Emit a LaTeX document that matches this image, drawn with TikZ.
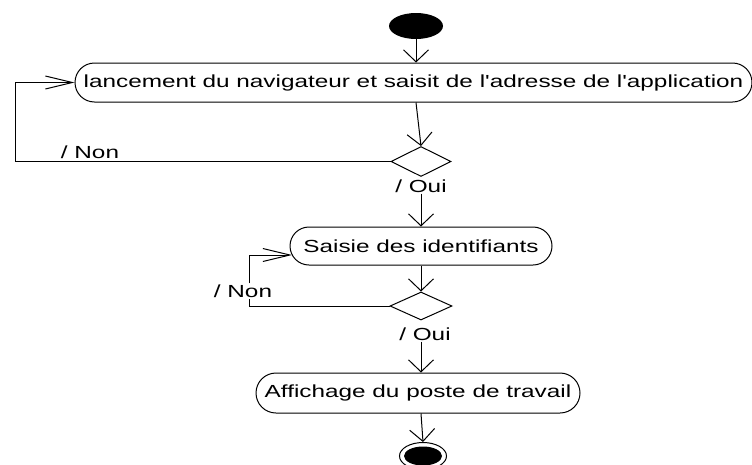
\documentclass[tikz,border=0pt]{standalone}
\usepackage{fontspec}
\newfontfamily\diafont{Liberation Sans}[FakeStretch=1.39]
\usetikzlibrary{arrows.meta,shapes.geometric,shapes.misc}
\tikzset{
  ln/.style={line width=1pt, line join=miter},
  act/.style={ln, draw, rounded rectangle, inner sep=0pt, font=\diafont\fontsize{17.5}{20}\selectfont},
  dec/.style={ln, draw, diamond, inner sep=0pt},
  lbl/.style={inner sep=1pt, font=\diafont\fontsize{17.5}{20}\selectfont},
  va/.style={ln, -{Straight Barb[length=12pt,width=25pt,line width=1pt]}},
  ha/.style={ln, -{Straight Barb[length=27pt,width=13pt,line width=1pt]}},
}
\begin{document}
\begin{tikzpicture}[x=1pt,y=-1pt]
\useasboundingbox (0,0) rectangle (752,464);
% start
\node[ellipse, fill=black, minimum width=54pt, minimum height=26pt, inner sep=0pt] (start) at (416,26) {};
% activities
\node[act, minimum width=677pt, minimum height=39pt] (a1) at (413.5,82.5)
  {\makebox[0pt]{lancement du navigateur et saisit de l'adresse de l'application}};
\node[act, minimum width=262pt, minimum height=38pt] (a2) at (421,246)
  {\makebox[0pt]{Saisie des identifiants}};
\node[act, minimum width=324pt, minimum height=40pt] (a3) at (418,393)
  {\makebox[0pt]{Affichage du poste de travail}};
% decisions
\node[dec, minimum width=60pt, minimum height=30pt] (d1) at (421,161.5) {};
\node[dec, minimum width=62pt, minimum height=28pt] (d2) at (421,306) {};
% end
\node[ln, draw, ellipse, minimum width=47pt, minimum height=27pt, inner sep=0pt] (end) at (423,456) {};
\node[ellipse, fill=black, minimum width=38pt, minimum height=19pt, inner sep=0pt] (endin) at (end.center) {};
% labels
\node[lbl] (non1) at (90,152) {/ Non};
\node[lbl] (oui1) at (421,186) {/ Oui};
\node[lbl] (non2) at (243,291) {/ Non};
\node[lbl] (oui2) at (425,334) {/ Oui};
% loop corners
\coordinate (l1a) at (15,161.5);
\coordinate (l1b) at (15,82.5);
\coordinate (l2a) at (249,306);
\coordinate (l2b) at (249,255);
\coordinate (l2c) at (292,255);
% flows
\draw[va] (start.south) -- (start.south |- a1.north);
\draw[va] ([xshift=2.5pt]a1.south) -- (d1.north);
\draw[va] (d1 |- oui1.south) -- (d1 |- a2.north);
\draw[va] (d1 |- a2.south) -- (d2.north);
\draw[va] (d2 |- oui2.south) -- (d2 |- a3.north);
\draw[va] (d2 |- a3.south) -- (end.north);
\draw[ha] (d1.west) -- (l1a) -- (l1b) -- (a1.west);
\draw[ln] (d2.west) -- (l2a) -- (l2a |- non2.south);
\draw[ha] (l2a |- non2.north) -- (l2b) -- (l2c);
\end{tikzpicture}
\end{document}
